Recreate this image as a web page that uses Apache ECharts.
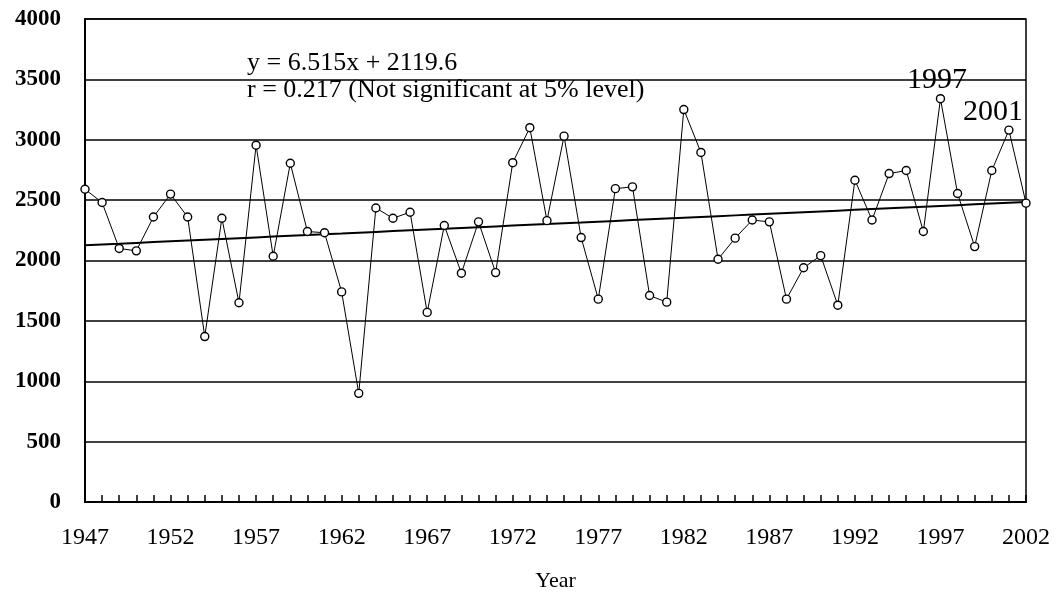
<!DOCTYPE html>
<html>
<head>
<meta charset="utf-8">
<script src="https://cdn.jsdelivr.net/npm/echarts@6/dist/echarts.min.js"></script>
<style>html,body{margin:0;padding:0;background:#fff}#c{width:1061px;height:595px}</style>
</head>
<body>
<div id="c"></div>
<script>
const years = [];
for (let y = 1947; y <= 2002; y++) years.push(String(y));
const values = [
  2590, 2480, 2100, 2080, 2360, 2550, 2360, 1370, 2350, 1650,
  2955, 2035, 2805, 2240, 2230, 1740, 900, 2435, 2350, 2400,
  1570, 2290, 1895, 2320, 1900, 2810, 3100, 2330, 3030, 2190,
  1680, 2595, 2610, 1710, 1655, 3250, 2895, 2010, 2185, 2335,
  2320, 1680, 1940, 2040, 1630, 2665, 2335, 2720, 2745, 2240,
  3340, 2555, 2115, 2745, 3080, 2475
];
const slope = 6.515, intercept = 2119.6;
const trend = years.map((_, i) => +(slope * (i + 1) + intercept).toFixed(1));
const yTicks = [0, 500, 1000, 1500, 2000, 2500, 3000, 3500, 4000];
const equationText = 'y = 6.515x + 2119.6';
const rText = 'r = 0.217 (Not significant at 5% level)';
const peakLabels = ['1997', '2001'];

const serif = '"Liberation Serif", "Times New Roman", serif';
const chart = echarts.init(document.getElementById('c'));
chart.setOption({
  animation: false,
  backgroundColor: '#fff',
  grid: { left: 85, right: 35, top: 19, bottom: 93, containLabel: false, outerBoundsMode: 'none',
          show: true, borderColor: '#000', borderWidth: 1.5 },
  xAxis: {
    type: 'category', data: years, boundaryGap: false,
    name: 'Year', nameLocation: 'middle', nameGap: 68,
    nameTextStyle: { fontFamily: serif, fontSize: 22, color: '#000' },
    axisLine: { lineStyle: { color: '#000', width: 2 } },
    axisTick: { show: true, inside: true, interval: 0, length: 7, lineStyle: { color: '#000', width: 1.5 } },
    axisLabel: { interval: 4, margin: 24, fontFamily: serif, fontSize: 24, color: '#000' },
    splitLine: { show: false }
  },
  yAxis: {
    type: 'value', min: yTicks[0], max: yTicks[yTicks.length - 1], interval: 500,
    axisLine: { show: true, lineStyle: { color: '#000', width: 2 } },
    axisTick: { show: false },
    axisLabel: { margin: 24, fontFamily: serif, fontSize: 23, fontWeight: 'bold', color: '#000',
                 formatter: v => String(v) },
    splitLine: { show: true, lineStyle: { color: '#000', width: 1.5 } }
  },
  series: [
    {
      type: 'line', data: trend, symbol: 'none', z: 2,
      lineStyle: { color: '#000', width: 2 }
    },
    {
      type: 'line', data: values, symbol: 'circle', symbolSize: 8, z: 3,
      lineStyle: { color: '#000', width: 1 },
      itemStyle: { color: '#fff', borderColor: '#000', borderWidth: 1.4 }
    }
  ],
  graphic: [
    { type: 'text', left: 247, top: 50, style: { text: equationText, font: '26px ' + serif, fill: '#000' } },
    { type: 'text', left: 247, top: 77, style: { text: rText, font: '26px ' + serif, fill: '#000' } },
    { type: 'text', left: 907, top: 65, style: { text: peakLabels[0], font: '30px ' + serif, fill: '#000' } },
    { type: 'text', left: 963, top: 97, style: { text: peakLabels[1], font: '30px ' + serif, fill: '#000' } }
  ]
});
</script>
</body>
</html>
